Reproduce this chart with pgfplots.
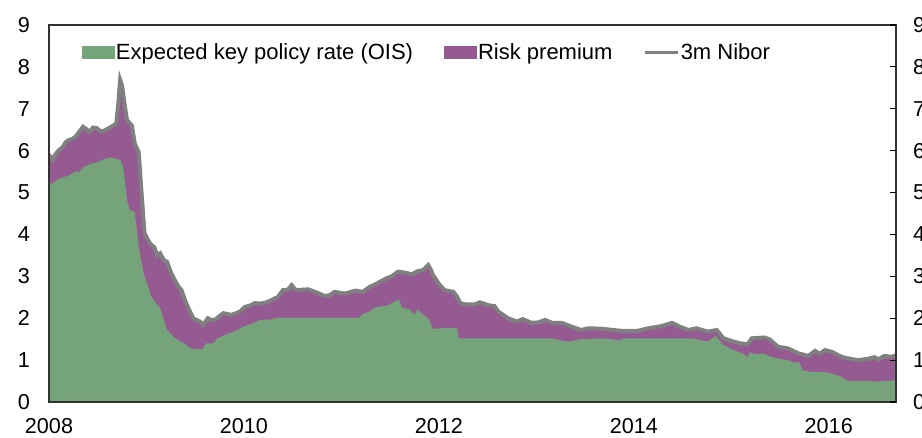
\documentclass[border=0pt]{standalone}
\usepackage{fontspec}
\setmainfont{Liberation Sans}
\usepackage{pgfplots}
\pgfplotsset{compat=1.18}
\definecolor{OISc}{HTML}{76A47A}
\definecolor{RPc}{HTML}{955A92}
\definecolor{NIBc}{HTML}{808080}

\pgfplotstableread{
t nibor
2008.00 5.90
2008.02 5.85
2008.04 5.78
2008.07 5.92
2008.10 6.01
2008.14 6.08
2008.17 6.20
2008.20 6.25
2008.24 6.28
2008.27 6.33
2008.31 6.45
2008.35 6.57
2008.38 6.52
2008.42 6.45
2008.45 6.55
2008.49 6.54
2008.53 6.46
2008.56 6.47
2008.60 6.52
2008.64 6.57
2008.69 6.65
2008.71 7.10
2008.73 7.69
2008.75 7.55
2008.77 7.20
2008.80 6.73
2008.85 6.60
2008.88 6.17
2008.92 5.97
2008.95 4.98
2008.98 4.03
2009.02 3.85
2009.05 3.75
2009.08 3.70
2009.11 3.50
2009.14 3.55
2009.18 3.38
2009.21 3.35
2009.25 3.10
2009.29 2.91
2009.33 2.75
2009.36 2.67
2009.40 2.40
2009.43 2.24
2009.48 2.00
2009.52 1.95
2009.55 1.92
2009.58 1.84
2009.63 2.00
2009.66 1.96
2009.70 1.96
2009.75 2.05
2009.79 2.12
2009.83 2.10
2009.87 2.08
2009.92 2.12
2009.96 2.16
2010.01 2.27
2010.06 2.30
2010.11 2.36
2010.17 2.35
2010.22 2.37
2010.28 2.43
2010.35 2.51
2010.40 2.67
2010.45 2.68
2010.49 2.79
2010.52 2.70
2010.54 2.67
2010.60 2.68
2010.66 2.69
2010.75 2.61
2010.83 2.53
2010.88 2.55
2010.93 2.63
2011.00 2.60
2011.04 2.59
2011.10 2.63
2011.14 2.66
2011.22 2.63
2011.29 2.75
2011.34 2.80
2011.38 2.85
2011.46 2.95
2011.51 2.99
2011.58 3.11
2011.65 3.09
2011.72 3.05
2011.79 3.13
2011.84 3.15
2011.89 3.27
2011.92 3.15
2011.94 3.03
2012.01 2.79
2012.06 2.67
2012.15 2.63
2012.19 2.50
2012.22 2.36
2012.27 2.33
2012.37 2.33
2012.42 2.38
2012.51 2.31
2012.57 2.29
2012.61 2.16
2012.71 2.00
2012.80 1.92
2012.86 1.98
2012.95 1.89
2013.02 1.90
2013.09 1.96
2013.16 1.89
2013.26 1.89
2013.36 1.80
2013.46 1.72
2013.53 1.76
2013.67 1.75
2013.78 1.72
2013.87 1.70
2014.04 1.70
2014.15 1.76
2014.28 1.81
2014.39 1.89
2014.47 1.80
2014.56 1.72
2014.64 1.76
2014.76 1.68
2014.85 1.72
2014.92 1.52
2015.00 1.46
2015.09 1.40
2015.17 1.38
2015.21 1.52
2015.34 1.54
2015.39 1.50
2015.48 1.32
2015.58 1.28
2015.69 1.16
2015.79 1.10
2015.86 1.22
2015.91 1.15
2015.96 1.24
2016.03 1.20
2016.13 1.08
2016.20 1.04
2016.30 1.00
2016.40 1.03
2016.47 1.07
2016.51 1.02
2016.57 1.10
2016.64 1.08
2016.69 1.11
}\nibor

\pgfplotstableread{
t ois
2008.00 5.26
2008.03 5.20
2008.08 5.30
2008.14 5.36
2008.20 5.40
2008.27 5.50
2008.31 5.48
2008.35 5.60
2008.42 5.68
2008.49 5.72
2008.56 5.79
2008.64 5.84
2008.70 5.80
2008.73 5.78
2008.76 5.62
2008.80 4.82
2008.83 4.58
2008.88 4.54
2008.92 3.71
2008.97 3.08
2009.05 2.51
2009.14 2.24
2009.21 1.72
2009.28 1.55
2009.32 1.48
2009.39 1.40
2009.45 1.28
2009.58 1.26
2009.61 1.40
2009.68 1.40
2009.73 1.52
2009.80 1.60
2009.90 1.68
2009.98 1.78
2010.07 1.86
2010.17 1.96
2010.28 1.97
2010.33 2.01
2011.18 2.01
2011.22 2.10
2011.29 2.16
2011.35 2.26
2011.48 2.31
2011.54 2.39
2011.59 2.45
2011.62 2.26
2011.70 2.21
2011.75 2.08
2011.78 2.21
2011.82 2.12
2011.89 2.00
2011.94 1.74
2012.06 1.77
2012.19 1.76
2012.20 1.52
2013.16 1.52
2013.26 1.46
2013.33 1.44
2013.46 1.50
2013.70 1.52
2013.85 1.47
2013.90 1.52
2014.61 1.52
2014.70 1.47
2014.76 1.44
2014.84 1.58
2014.92 1.36
2015.02 1.24
2015.12 1.16
2015.17 1.07
2015.19 1.20
2015.24 1.14
2015.34 1.15
2015.41 1.08
2015.48 1.04
2015.58 1.00
2015.65 0.94
2015.70 0.95
2015.73 0.76
2015.82 0.72
2015.96 0.72
2016.04 0.67
2016.13 0.60
2016.20 0.50
2016.37 0.50
2016.51 0.49
2016.57 0.50
2016.69 0.52
}\ois

\begin{document}
\begin{tikzpicture}[font=\fontsize{10.8}{13}\selectfont]
\begin{axis}[
  at={(0,0)}, anchor=south west,
  width=423.5pt, height=188.5pt, scale only axis,
  xmin=2008, xmax=2016.69, ymin=0, ymax=9,
  xtick={2008,2010,2012,2014,2016},
  xticklabels={2008,2010,2012,2014,2016},
  ytick={0,1,...,9},
  tick style={draw=none},
  xticklabel style={yshift=-4.5pt},
  yticklabel style={xshift=-6pt},
  /pgf/number format/assume math mode=true,
  axis line style={black!80, line width=0.75pt},
  axis on top,
  legend style={at={(axis description cs:0.038,0.926)}, anchor=west,
    draw=none, fill=none, inner sep=0pt,
    font=\fontsize{11}{13}\selectfont,
    nodes={inner xsep=0.8pt, inner ysep=1pt},
    /tikz/every even column/.append style={column sep=14.5pt}},
  legend columns=3,
]
\addplot[fill=RPc, draw=none, forget plot] table[x=t, y=nibor] {\nibor} \closedcycle;
\addplot[fill=OISc, draw=none, forget plot] table[x=t, y=ois] {\ois} \closedcycle;
\addplot[NIBc, line width=2pt, forget plot] table[x=t, y=nibor] {\nibor};
\addlegendimage{legend image code/.code={\fill[OISc] (0pt,-3pt) rectangle (16pt,3pt);}}
\addlegendentry{Expected key policy rate (OIS)}
\addlegendimage{legend image code/.code={\fill[RPc] (0pt,-3pt) rectangle (16pt,3pt);}}
\addlegendentry{Risk premium}
\addlegendimage{legend image code/.code={\draw[NIBc, line width=1.5pt] (0pt,0pt) -- (16.5pt,0pt);}}
\addlegendentry{3m Nibor}
\end{axis}
\begin{axis}[
  at={(0,0)}, anchor=south west,
  width=423.5pt, height=188.5pt, scale only axis,
  xmin=2008, xmax=2016.69, ymin=0, ymax=9,
  axis x line=none, axis y line*=right,
  axis line style={draw=none},
  ytick={0,1,...,9},
  tick align=inside, major tick length=3pt,
  tick style={black, line width=0.6pt},
  yticklabel style={xshift=5pt},
  /pgf/number format/assume math mode=true,
]
\addplot[draw=none] coordinates {(2008,0) (2016.69,9)};
\end{axis}
\pgfresetboundingbox
\path[use as bounding box] (-24.5pt,-18pt) rectangle (436.5pt,201pt);
\end{tikzpicture}
\end{document}
